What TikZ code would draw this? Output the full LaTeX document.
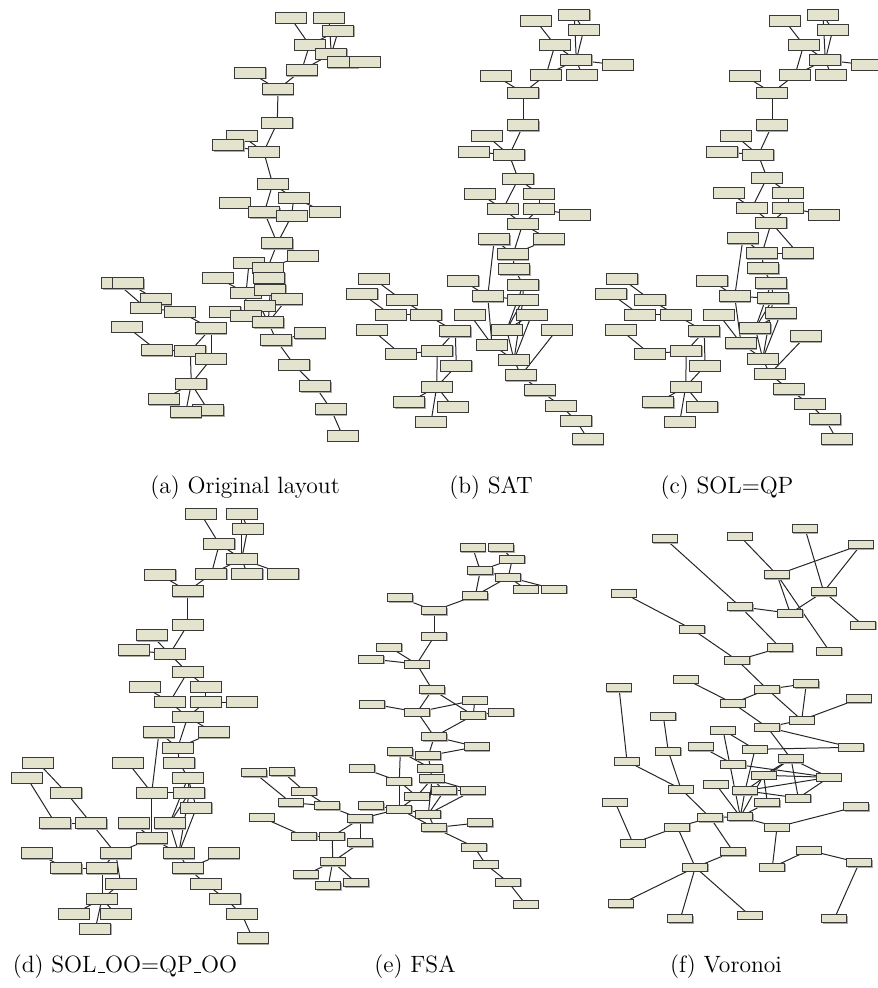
\documentclass[tikz,border=0pt]{standalone}
\usepackage{xcolor}
\usetikzlibrary{shadows}
\definecolor{box-fill}{HTML}{E4E3CD}
\definecolor{box-line}{HTML}{3A3A3A}
\definecolor{box-shade}{HTML}{ABABA3}
\newcommand\lowbar{\kern.06em\rule{.3em}{0.4pt}}
\pgfdeclarelayer{back}
\pgfsetlayers{back,main}
\tikzset{
  blk/.style={draw=box-line, fill=box-fill, line width=0.5pt, inner sep=0pt,
    minimum width=15.5pt, minimum height=5.5pt,
    drop shadow={shadow xshift=0.4pt, shadow yshift=-0.4pt, fill=box-shade, opacity=1}},
  sblk/.style={blk, minimum width=12.5pt, minimum height=4pt},
  edge/.style={line width=0.5pt, black!85},
  subcap/.style={font=\fontsize{11.8}{14}\selectfont, inner sep=0pt}
}
\begin{document}
\begin{tikzpicture}[x=0.5pt, y=-0.5pt]
      \useasboundingbox (0,0) rectangle (877,988);
      % (a) original layout
      \foreach \n/\x/\y in {1/290.7/18, 2/329/18, 3/338.3/30.7, 4/309.5/45, 5/331.3/54,
          6/342.7/62.3, 7/365/62, 8/301.7/70.3, 9/250.3/72.7, 10/278/89.3,
          11/277.3/122.7, 12/242/136, 13/228.3/145.3, 14/263.7/151.7, 15/272.7/184,
          16/234.7/203, 17/293.7/198, 18/324.7/211.7, 19/264.3/212.3, 20/291.7/215.7,
          21/277.3/243.3, 22/303/256, 23/249/263, 24/267.7/267.7, 25/269.3/277.7,
          26/218/278, 27/117.3/283.3, 28/128.3/283.3, 29/246/293, 30/270.3/290,
          31/286.7/299.3, 32/156/299.3, 33/259.7/305.7, 34/146/308, 35/179.7/311.7,
          36/225.3/311.7, 37/245.7/316, 38/268.3/322.3, 39/126.7/326.7, 40/211/328.3,
          41/310/333.3, 42/276.3/340.3, 43/157/350.3, 44/190.3/351, 45/211/359,
          46/294.3/365, 47/191.3/383.7, 48/315.3/386.3, 49/164/399.3, 50/208.3/410.3,
          51/185.7/412.3, 52/331/409.3, 53/342.7/436}
        \node[blk] (a\n) at (\x,\y) {};
      \begin{pgfonlayer}{back}
      \foreach \u/\v in {1/4, 2/5, 3/5, 3/4, 4/8, 5/8, 5/6, 6/7, 9/10, 8/10, 10/11,
          11/14, 12/14, 13/14, 14/15, 15/19, 15/17, 17/20, 17/18, 19/21, 20/21,
          21/24, 22/24, 23/29, 26/29, 24/25, 25/30, 31/38, 30/38, 33/38, 29/37,
          36/37, 37/38, 38/42, 42/46, 46/48, 48/52, 52/53, 27/34, 28/32, 32/35,
          34/35, 35/40, 39/43, 43/44, 40/44, 40/45, 44/47, 45/47, 47/49, 47/51,
          47/50, 41/42}
        \draw[edge] (a\u.center) -- (a\v.center);
      \end{pgfonlayer}
      % (b) SAT
      \foreach \n/\x/\y in {1/536/21, 2/574.3/15, 3/583.7/30, 4/555/45, 5/576.3/60,
          6/618/65, 7/495.7/76, 8/546/75, 9/582/75, 10/523.3/92.7, 11/523.3/125.3,
          12/487/136, 13/473.7/151.7, 14/509.3/155, 15/518.3/179, 16/480/194,
          17/539/194, 18/503/209, 19/539/209, 20/575/215, 21/522.7/224,
          23/494.3/239.3, 24/549/239.3, 25/513/254.3, 26/514.3/269.3, 27/373.7/279,
          28/463.3/281, 29/523.3/284.7, 30/362.3/294, 31/487.7/296.3, 32/523/299.7,
          33/401.7/299.7, 34/390.7/314.7, 35/426.3/314.7, 36/470/314.7,
          37/531.7/314.7, 38/372/329.7, 39/455.3/331.3, 40/506.7/329.7,
          41/557/329.7, 42/492/344.7, 43/400.7/354, 44/437.3/351, 45/514/360,
          46/456.3/366, 47/521/375.3, 48/436.7/386.7, 49/539.7/390.3,
          50/409.3/402.3, 51/453/407, 52/560.7/405.7, 53/431/422, 54/576.3/420.7,
          55/588/439.3}
        \node[blk] (b\n) at (\x,\y) {};
      \begin{pgfonlayer}{back}
      \foreach \u/\v in {1/4, 2/3, 3/5, 2/5, 4/5, 4/8, 5/8, 5/9, 5/6, 7/10, 8/10,
          10/11, 11/14, 12/14, 13/14, 14/15, 15/18, 15/17, 16/18, 17/19, 19/20,
          18/21, 19/21, 21/25, 21/24, 23/31, 25/26, 26/29, 29/32, 29/40, 32/40,
          32/45, 37/45, 37/40, 31/42, 31/32, 40/45, 27/33, 30/34, 33/35, 34/35,
          35/39, 38/43, 43/44, 39/44, 39/46, 44/48, 46/48, 48/50, 48/53, 48/51,
          36/42, 28/31, 42/45, 45/47, 41/47, 47/49, 49/52, 52/54, 54/55, 24/25,
          23/25}
        \draw[edge] (b\u.center) -- (b\v.center);
      \end{pgfonlayer}
      % (c) SOL=QP
      \foreach \n/\x/\y in {1/785/21, 2/823/15, 3/832.7/30, 4/803.7/45, 5/825.3/60,
          6/867/65, 7/744.7/76, 8/795/75, 9/831/75, 10/772/92.7, 11/772/125.3,
          12/736/136, 13/722.3/151.7, 14/758.3/155, 15/767/177.7, 16/729/192.7,
          17/788/192.7, 18/752/207.7, 19/788/207.7, 20/823.7/215, 21/771.3/222.7,
          23/743/238.3, 24/798/253.3, 25/762/253.3, 26/763.3/268.3, 27/622.3/279,
          28/712.3/281, 29/771.3/283.3, 30/611.3/294, 31/734.7/296.3,
          32/773.3/298.3, 33/650.3/299.7, 34/639.7/314.7, 35/675.7/314.7,
          36/719/314.7, 37/780.7/313.3, 38/620.7/330, 39/704.3/331.3,
          40/755.3/328.3, 41/805.7/336.3, 42/741/343.3, 43/649.7/353.7,
          44/686.3/351, 45/762.7/358.7, 46/705/366, 47/769.7/374, 48/685.7/386.7,
          49/788.7/389.3, 50/658.3/402.3, 51/702.3/407, 52/809.7/404,
          53/679.7/422, 54/825.3/419.3, 55/836.7/439.3}
        \node[blk] (c\n) at (\x,\y) {};
      \begin{pgfonlayer}{back}
      \foreach \u/\v in {1/4, 2/3, 3/5, 2/5, 4/5, 4/8, 5/8, 5/9, 5/6, 7/10, 8/10,
          10/11, 11/14, 12/14, 13/14, 14/15, 15/18, 15/17, 16/18, 17/19, 19/20,
          18/21, 19/21, 21/25, 21/24, 23/25, 23/31, 24/25, 25/26, 26/29, 29/32,
          29/40, 32/40, 32/45, 37/45, 37/40, 31/42, 31/32, 40/45, 27/33, 30/34,
          33/35, 34/35, 35/39, 38/43, 43/44, 39/44, 39/46, 44/48, 46/48, 48/50,
          48/53, 48/51, 36/42, 28/31, 42/45, 45/47, 41/47, 47/49, 49/52, 52/54,
          54/55}
        \draw[edge] (c\u.center) -- (c\v.center);
      \end{pgfonlayer}
      % (d) SOL_OO=QP_OO
      \foreach \n/\x/\y in {1/200.7/513.7, 2/241.7/513.7, 3/247.7/529, 4/219.3/544,
          5/241.7/559, 6/160.3/574.7, 7/211.3/574, 8/247.3/574, 9/283.3/574,
          10/187.7/591.3, 11/187.7/624.7, 12/151.7/635.3, 13/133.7/650.3,
          14/169.7/654, 15/187.7/672, 16/144.7/687, 17/205.7/687, 18/169.7/702,
          19/205.7/702, 20/241.7/702, 21/187.7/717, 23/159/732.3, 24/213.7/732.3,
          25/177.7/747.7, 26/38/762.7, 27/128/762.7, 28/179.3/762.7, 29/27/777.7,
          30/188/777.7, 31/66.3/792.7, 32/151.7/792.7, 33/189.3/792.7,
          34/196.3/808, 35/55.3/823.3, 36/91.3/823.3, 37/133.7/823.3,
          38/169.7/823.3, 39/151.7/838.3, 40/36.7/853.3, 41/115.7/853.3,
          42/178.7/853.3, 43/223.7/853.3, 44/66.3/868.3, 45/102/868.3,
          46/188/868.3, 47/120.7/883.7, 48/205.7/883.7, 49/102/898.7,
          50/225.3/898.7, 51/74/914, 52/115.7/914, 53/241.7/914, 54/95.3/929,
          55/252.7/938.3}
        \node[blk] (d\n) at (\x,\y) {};
      \begin{pgfonlayer}{back}
      \foreach \u/\v in {1/4, 2/3, 3/5, 2/5, 4/5, 4/7, 5/7, 5/8, 5/9, 6/10, 7/10,
          10/11, 11/14, 12/14, 13/14, 14/15, 15/18, 15/17, 16/18, 17/19, 19/20,
          18/21, 19/21, 21/25, 21/24, 23/25, 23/32, 24/25, 25/28, 28/30, 30/33,
          30/38, 33/38, 33/42, 34/42, 30/34, 38/42, 32/33, 32/39, 39/42, 37/39,
          27/32, 26/31, 29/35, 31/36, 35/36, 36/41, 39/41, 40/44, 44/45, 41/45,
          41/47, 45/49, 47/49, 49/51, 49/52, 49/54, 42/46, 43/46, 46/48, 48/50,
          50/53, 53/55}
        \draw[edge] (d\u.center) -- (d\v.center);
      \end{pgfonlayer}
      % (e) FSA
      \foreach \n/\x/\y in {1/472.7/547.7, 2/501.3/547.7, 3/512.3/559, 4/480.3/570.7,
          5/508.3/577, 6/525.7/589, 7/554.3/589, 8/475.3/595.7, 9/400.3/597.7,
          10/434.3/610.7, 11/434.3/636.3, 12/389.3/647, 13/371.3/659,
          14/416.7/664, 15/432.3/689.7, 16/474.7/700.3, 17/372.3/704,
          18/417.3/712, 19/473.3/715.3, 20/501.3/712, 21/434.3/736.7,
          22/476.7/746.7, 23/400.3/751.7, 24/428.3/755.7, 25/362.3/768,
          26/430.3/768, 27/254.3/772.7, 28/282.3/771.7, 29/432/778.7,
          30/399.3/781.3, 31/444.3/790.7, 32/472.7/790.7, 33/304.3/791,
          34/416.7/796.3, 35/291/802.7, 36/327.3/805.7, 37/371.3/805.7,
          38/399.3/809, 39/428.3/814, 40/261.7/817.3, 41/360.3/818.7,
          42/480.3/822.7, 43/434.3/827.7, 44/304.3/836.3, 45/332.3/836.3,
          46/360.3/842.7, 47/474.3/847, 48/332.7/861.7, 49/485.7/864.3,
          50/306/874.7, 51/356.3/882.7, 52/328.3/885.7, 53/508.3/882.3,
          54/525.7/904.3}
        \node[sblk] (e\n) at (\x,\y) {};
      \begin{pgfonlayer}{back}
      \foreach \u/\v in {1/4, 2/3, 3/5, 3/4, 4/5, 4/8, 5/8, 5/6, 5/7, 9/10, 8/10,
          10/11, 11/14, 12/14, 13/14, 14/15, 15/18, 15/19, 17/18, 18/16, 16/19,
          19/20, 18/21, 19/21, 21/22, 21/24, 24/22, 23/30, 23/26, 24/26, 26/29,
          25/30, 29/31, 29/32, 31/32, 29/34, 30/34, 30/38, 34/38, 31/39, 32/39,
          29/39, 38/39, 37/38, 38/41, 38/43, 39/43, 43/42, 43/47, 47/49, 49/53,
          53/54, 27/35, 28/33, 33/36, 35/36, 36/41, 40/44, 44/45, 41/45, 41/46,
          45/48, 46/48, 48/50, 48/52, 48/51}
        \draw[edge] (e\u.center) -- (e\v.center);
      \end{pgfonlayer}
      % (f) Voronoi
      \foreach \n/\x/\y in {1/805/528.7, 2/665/538.7, 3/739.7/536, 4/861/544.7,
          5/777/574.7, 6/823.7/591.7, 7/623.7/593.3, 8/740.3/606.7, 9/790.3/613.3,
          10/863.3/625.3, 11/692.3/629.3, 12/780.3/647.7, 13/829.3/651,
          14/737.3/660.3, 15/685.7/679.3, 16/619/687.7, 17/806.3/683.7,
          18/767.3/689.3, 19/859/698.7, 20/733/703.3, 21/663.3/716, 22/801.7/720,
          23/767.3/727.3, 24/723/730, 25/701/746.7, 26/668.3/751.3, 27/755/749.3,
          28/851.3/747.3, 29/627/761.3, 30/791/758.7, 31/733.3/764,
          32/763.7/775.3, 33/829/777.3, 34/715.7/784, 35/681/789, 36/745/790.7,
          37/798.3/798, 38/767.3/802.7, 39/615/802, 40/856.3/806.7,
          41/710.3/817.7, 42/740.3/816.7, 43/677.3/827, 44/777/827,
          45/633/843.3, 46/733.3/851.7, 47/808.7/850.3, 48/859.3/862.7,
          49/695.3/867.3, 50/772.3/867.3, 51/621/903.7, 52/749.7/915.3,
          53/680.3/918.7, 54/834.3/918.7}
        \node[sblk] (f\n) at (\x,\y) {};
      \begin{pgfonlayer}{back}
      \foreach \u/\v in {2/8, 3/5, 1/6, 4/5, 4/6, 5/9, 5/13, 6/9, 6/10, 8/9, 8/12,
          7/11, 11/14, 12/14, 14/18, 15/20, 20/18, 18/17, 18/22, 17/22, 22/19,
          16/29, 20/23, 21/26, 23/22, 23/28, 23/30, 24/27, 24/42, 25/31, 27/28,
          27/36, 26/35, 29/35, 30/33, 30/32, 30/37, 30/36, 31/33, 32/33, 32/38,
          33/36, 33/37, 34/42, 35/41, 36/42, 36/37, 38/42, 32/42, 41/42, 41/46,
          41/43, 42/44, 44/40, 44/50, 50/47, 47/48, 48/54, 39/45, 45/43, 43/49,
          46/49, 49/51, 49/53, 49/52}
        \draw[edge] (f\u.center) -- (f\v.center);
      \end{pgfonlayer}
      % captions
      \node[subcap] (capa) at (245,488) {(a) Original layout};
      \node[subcap] (capb) at (491,488) {(b) SAT};
      \node[subcap] (capc) at (727,488) {(c) SOL=QP};
      \node[subcap] (capd) at (125,967) {(d) SOL\lowbar OO=QP\lowbar OO};
      \node[subcap] (cape) at (415,967) {(e) FSA};
      \node[subcap] (capf) at (726,967) {(f) Voronoi};
    \end{tikzpicture}
\end{document}
